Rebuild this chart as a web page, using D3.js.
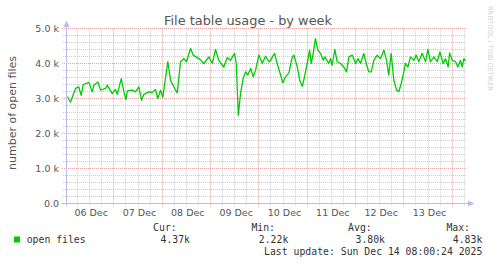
<!DOCTYPE html>
<html><head><meta charset="utf-8">
<script src="https://cdn.jsdelivr.net/npm/d3@7"></script>
<style>
html,body{margin:0;padding:0;background:#fff;}
svg{display:block;}
</style>
</head><body>
<script>
// ---- data ----
const title = "File table usage - by week";
const yLabel = "number of open files";
const seriesName = "open files";
const baseTime = Date.UTC(2025, 11, 6, 0, 0); // 06 Dec 00:00
const domainHours = [0.5, 199.1];
// hours since 06 Dec 00:00
const hours = [0.9,2.5,5.0,6.6,7.8,8.8,11.6,13.3,14.1,16.1,17.4,19.9,20.7,23.2,24.8,25.7,27.7,29.0,30.0,30.7,
33.1,34.8,36.4,37.8,38.9,41.4,43.1,44.7,45.8,47.2,48.3,50.8,52.2,53.8,55.5,57.1,58.8,60.1,62.1,63.4,
67.0,68.7,71.2,72.9,74.5,76.1,78.6,80.3,81.9,83.9,84.8,85.8,86.9,88.2,89.4,90.5,91.9,93.2,94.4,96.0,
97.7,99.3,101.0,101.8,103.8,105.1,106.8,107.9,109.3,110.9,112.6,113.4,115.1,116.3,117.5,118.3,120.0,121.2,122.0,123.0,
124.1,125.3,126.6,128.0,128.8,130.7,131.6,132.4,133.7,134.9,136.6,138.2,139.5,140.7,142.4,144.0,145.3,146.5,148.1,149.3,
150.6,151.8,153.1,154.8,156.4,158.1,159.4,160.5,161.7,163.0,164.4,165.5,166.7,168.0,168.8,170.0,171.3,173.0,174.1,175.4,
177.1,178.8,179.9,181.2,182.9,184.6,185.9,187.5,188.7,190.0,190.7,192.0,193.7,194.8,196.1,197.0,197.8,198.6];
// open files (thousands)
const openFilesK = [3.05,2.90,3.29,3.33,3.09,3.40,3.46,3.19,3.38,3.47,3.24,3.29,3.38,3.14,3.26,3.12,3.57,3.19,2.97,3.22,
3.24,3.19,3.33,2.95,3.12,3.19,3.17,3.26,3.00,3.24,3.03,4.05,3.52,3.33,3.16,4.05,4.14,4.05,4.43,4.24,
4.11,4.00,4.19,4.00,4.40,4.09,3.90,4.17,4.09,4.29,4.00,2.52,3.14,3.57,3.76,3.67,3.86,3.62,3.81,4.24,
4.00,4.21,4.05,4.09,4.29,4.00,3.67,3.45,3.62,3.73,4.19,4.24,3.90,3.52,3.35,3.52,4.00,4.38,4.00,4.29,
4.71,4.38,4.29,4.09,4.19,4.00,4.14,3.95,4.40,4.05,4.00,3.90,3.76,4.19,4.24,4.00,4.14,4.00,4.29,4.00,
3.76,3.76,4.09,4.24,4.14,4.38,4.09,3.67,4.29,3.52,3.24,3.20,3.43,3.76,4.00,3.90,4.19,4.09,4.24,4.05,
4.29,4.05,4.40,4.05,4.19,4.05,4.33,4.00,4.14,3.90,4.30,4.09,4.05,3.90,4.09,3.90,4.14,4.07];
const yMax = 5000;
const yTickValues = [0, 1000, 2000, 3000, 4000, 5000];
const yTickLabels = ["0.0", "1.0 k", "2.0 k", "3.0 k", "4.0 k", "5.0 k"];
const legendHeads = ["Cur:", "Min:", "Avg:", "Max:"];
const legendValues = ["4.37k", "2.22k", "3.80k", "4.83k"];
const lastUpdate = "Last update: Sun Dec 14 08:00:24 2025";
const watermark = "RRDTOOL / TOBI OETIKER";

// ---- drawing ----
const W = 497, H = 264;
const svg = d3.select("body").append("svg").attr("width", W).attr("height", H);
svg.append("rect").attr("width", W).attr("height", H).attr("fill", "#ffffff");

const hToDate = h => new Date(baseTime + h * 3600000);
const x = d3.scaleUtc().domain(domainHours.map(hToDate)).range([66.5, 466.5]);
const y = d3.scaleLinear().domain([0, yMax]).range([203.5, 28.5]);
const px = v => Math.round(v - 0.5) + 0.5;

const sans = "'DejaVu Sans', sans-serif";
const mono = "'DejaVu Sans Mono', monospace";
const textCol = "#555555";

// grids
const g = svg.append("g");
const minorY = d3.range(0, yMax + 1, 200).filter(v => v % 1000 !== 0);
g.selectAll(".hmin").data(minorY).join("line")
  .attr("x1", 63).attr("x2", 466.5)
  .attr("y1", d => px(y(d))).attr("y2", d => px(y(d)))
  .attr("stroke", "#cccccc").attr("stroke-dasharray", "1,1").attr("stroke-width", 1);
const minorX = d3.utcHour.every(6).range(x.domain()[0], x.domain()[1]).filter(d => d.getUTCHours() !== 0);
g.selectAll(".vmin").data(minorX).join("line")
  .attr("x1", d => px(x(d))).attr("x2", d => px(x(d)))
  .attr("y1", 28.5).attr("y2", 206)
  .attr("stroke", "#cccccc").attr("stroke-dasharray", "1,1").attr("stroke-width", 1);
g.selectAll(".hmaj").data(yTickValues).join("line")
  .attr("x1", 62).attr("x2", 466.5)
  .attr("y1", d => px(y(d))).attr("y2", d => px(y(d)))
  .attr("stroke", "#e8a0a0").attr("stroke-dasharray", "1,1").attr("stroke-width", 1);
const days = d3.utcDay.range(x.domain()[0], x.domain()[1]).filter(d => x(d) > 70);
g.selectAll(".vmaj").data(days).join("line")
  .attr("x1", d => px(x(d))).attr("x2", d => px(x(d)))
  .attr("y1", 28.5).attr("y2", 207)
  .attr("stroke", "#e8a0a0").attr("stroke-dasharray", "1,1").attr("stroke-width", 1);

// y tick labels
svg.selectAll(".ytl").data(yTickValues).join("text")
  .attr("x", 59).attr("y", d => y(d)).attr("dy", "0.36em")
  .attr("text-anchor", "end").attr("font-family", sans).attr("font-size", 9.5)
  .attr("fill", textCol).text((d, i) => yTickLabels[i]);

// x tick labels at noon
const noons = d3.utcDay.range(d3.utcDay.floor(x.domain()[0]), x.domain()[1])
  .map(d => d3.utcHour.offset(d, 12)).filter(d => x(d) > 70 && x(d) < 460);
svg.selectAll(".xtl").data(noons).join("text")
  .attr("x", d => x(d) + 1.5).attr("y", 215.5)
  .attr("text-anchor", "middle").attr("font-family", sans).attr("font-size", 9.5)
  .attr("fill", textCol).text(d => d3.utcFormat("%d %b")(d));

// axes
const axisCol = "#b8bff0";
svg.append("line").attr("x1", 66.5).attr("x2", 66.5).attr("y1", 206).attr("y2", 26)
  .attr("stroke", axisCol).attr("stroke-width", 1);
svg.append("path").attr("d", "M63.5,27 L66.5,20.5 L69.5,27 Z").attr("fill", axisCol);
svg.append("line").attr("x1", 63).attr("x2", 469).attr("y1", 203.5).attr("y2", 203.5)
  .attr("stroke", axisCol).attr("stroke-width", 1);
svg.append("path").attr("d", "M468,200.5 L474.5,203.5 L468,206.5 Z").attr("fill", axisCol);

// series line
const pts = hours.map((h, i) => ({t: hToDate(h), v: openFilesK[i] * 1000}));
svg.append("path").datum(pts)
  .attr("d", d3.line().x(d => x(d.t)).y(d => y(d.v)))
  .attr("fill", "none").attr("stroke", "#00cc00").attr("stroke-width", 1.3)
  .attr("stroke-linejoin", "round");

// title
svg.append("text").attr("x", 248).attr("y", 24.5).attr("text-anchor", "middle")
  .attr("font-family", sans).attr("font-size", 12.9).attr("fill", textCol).text(title);

// y label
svg.append("text").attr("transform", "translate(15.5,113) rotate(-90)")
  .attr("text-anchor", "middle").attr("font-family", sans).attr("font-size", 11)
  .attr("fill", textCol).text(yLabel);

// watermark
svg.append("text").attr("transform", "translate(488,6) rotate(90)")
  .attr("font-family", sans).attr("font-size", 6.6).attr("fill", "#cfcfcf").text(watermark);

// legend
svg.append("rect").attr("x", 14).attr("y", 236.5).attr("width", 6).attr("height", 6)
  .attr("fill", "#00cc00");
svg.append("text").attr("x", 26.7).attr("y", 243).attr("font-family", mono).attr("font-size", 9.8)
  .attr("fill", "#333").text(seriesName);
const headX = [176.7, 275, 371.7, 470];
const valX = [190, 288.3, 385, 482.3];
svg.selectAll(".lh").data(legendHeads).join("text")
  .attr("x", (d, i) => headX[i]).attr("y", 231).attr("text-anchor", "end")
  .attr("font-family", mono).attr("font-size", 9.8).attr("fill", "#333").text(d => d);
svg.selectAll(".lv").data(legendValues).join("text")
  .attr("x", (d, i) => valX[i]).attr("y", 243).attr("text-anchor", "end")
  .attr("font-family", mono).attr("font-size", 9.8).attr("fill", "#333").text(d => d);
svg.append("text").attr("x", 482.3).attr("y", 255).attr("text-anchor", "end")
  .attr("font-family", mono).attr("font-size", 9.8).attr("fill", "#333").text(lastUpdate);
</script>
</body></html>
